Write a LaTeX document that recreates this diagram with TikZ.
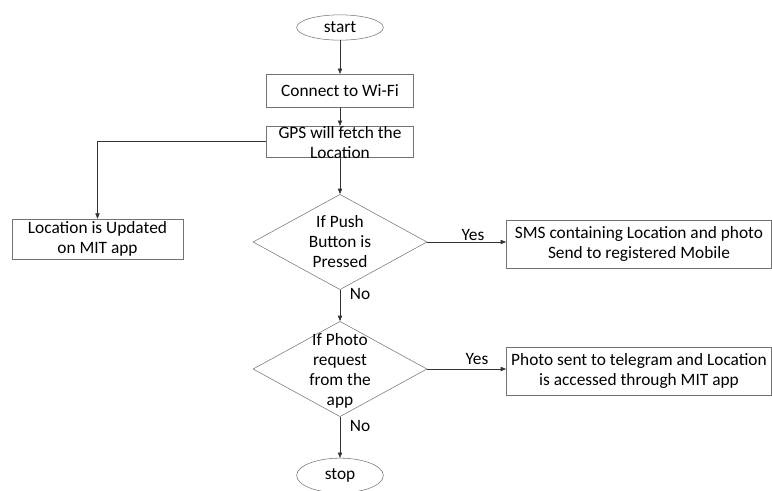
\documentclass[tikz,border=0pt]{standalone}
\usepackage{fontspec}
\setmainfont{Carlito}
\usetikzlibrary{shapes.geometric,arrows.meta}

\begin{document}
\begin{tikzpicture}[x=0.75pt,y=-0.75pt,
    font=\fontsize{13}{15}\selectfont,
    box/.style={draw=black!55,inner sep=0pt,align=center},
    term/.style={draw=black!55,ellipse,inner sep=0pt,minimum width=65pt},
    decision/.style={draw=black!55,diamond,inner sep=0pt,minimum width=130.5pt,minimum height=71.5pt},
    arr/.style={draw=black!80,-{Triangle[length=4pt,width=3.2pt]}}]
  \useasboundingbox (0,0) rectangle (772,490);
  % terminals
  \node[term,minimum height=19pt] (start) at (340,27.5) {start};
  \node[term,minimum height=26pt] (stop) at (340,475.5) {stop};
  % process boxes
  \node[box,minimum width=110pt,minimum height=24.5pt] (wifi) at (340,90.5) {Connect to Wi-Fi};
  \node[box,minimum width=110pt,minimum height=23pt] (gps) at (340,141.5) {};
  \node[align=center,inner sep=0pt] (gpstxt) at (340,143) {GPS will fetch the\\Location};
  \node[box,minimum width=128pt,minimum height=30pt] (loc) at (97.5,239) {Location is Updated\\on MIT app};
  \node[box,minimum width=199pt,minimum height=36pt] (sms) at (639,244) {SMS containing Location and photo\\Send to registered Mobile};
  \node[box,minimum width=199pt,minimum height=36pt] (photo) at (639,371) {Photo sent to telegram and Location\\is accessed through MIT app};
  % decisions
  \node[decision] (push) at (340,242) {};
  \node[align=center,inner sep=0pt] (pushtxt) at (340,242) {If Push\\Button is\\Pressed};
  \node[decision] (req) at (340,369) {};
  \node[align=center,inner sep=0pt] (reqtxt) at (340,371) {If Photo\\request\\from the\\app};
  % connectors
  \draw[arr] (start) -- (wifi);
  \draw[arr] (wifi) -- (gps);
  \draw[arr] (gps.west) -| (loc.north);
  \draw[arr] (gps) -- (push);
  \draw[arr] (push.east) -- (push.east -| sms.west);
  \draw[arr] (push) -- (req);
  \draw[arr] (req.east) -- (req.east -| photo.west);
  \draw[arr] (req) -- (stop);
  % branch labels
  \node (yes1) at (473,235) {Yes};
  \node (no1) at (360,294) {No};
  \node (yes2) at (477,359) {Yes};
  \node (no2) at (360,426) {No};
\end{tikzpicture}
\end{document}
